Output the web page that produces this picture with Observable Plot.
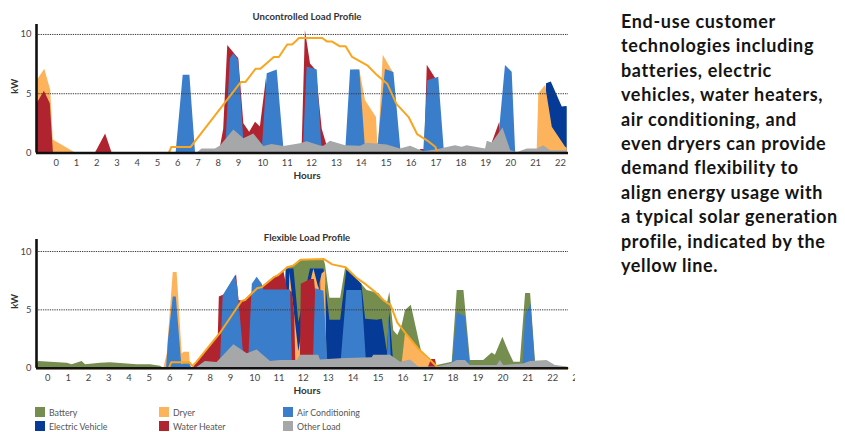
<!DOCTYPE html>
<html>
<head>
<meta charset="utf-8">
<script src="https://cdn.jsdelivr.net/npm/d3@7"></script>
<script src="https://cdn.jsdelivr.net/npm/@observablehq/plot@0.6"></script>
<style>
  html, body { margin: 0; padding: 0; background: #fff; }
  body { width: 845px; height: 432px; position: relative; overflow: hidden; font-family: Lato, "Open Sans", sans-serif; }
  #top { position: absolute; left: 0; top: 0; width: 580px; height: 185px; overflow: hidden; }
  #bottom { position: absolute; left: 0; top: 222px; width: 575px; height: 175px; overflow: hidden; }
  #legend { position: absolute; left: 0; top: 0; }
  .sw { position: absolute; width: 10px; height: 10px; }
  .lt { position: absolute; font-size: 8.8px; color: #555; line-height: 10px; white-space: nowrap; }
  #text { position: absolute; left: 621px; top: 9px; font-family: Lato, sans-serif; font-weight: 700; font-size: 18px; letter-spacing: 0.65px; line-height: 24.4px; color: #141414; white-space: nowrap; }
</style>
</head>
<body>
<div id="top"></div>
<div id="bottom"></div>
<div id="legend"></div>
<div id="text"></div>
<script>
// ---------- data (hour, kW) ----------
const topTicks = [0,1,2,3,4,5,6,7,8,9,10,11,12,13,14,15,16,17,18,19,20,21,22];
const bottomTicks = [0,1,2,3,4,5,6,7,8,9,10,11,12,13,14,15,16,17,18,19,20,21,22,23];

// Uncontrolled load profile
const uncSolar = [[-0.97,0],[5.56,0],[5.68,0.5],[6.63,0.5],[9.1,6.0],[9.29,6.0],[9.7,7.1],[9.9,7.1],[10.45,8.1],[10.66,8.1],[11.0,9.15],[11.2,9.15],[11.34,9.4],[11.48,9.7],[12.43,9.7],[12.63,9.4],[12.83,9.4],[13.14,9.0],[13.37,9.0],[13.63,8.1],[14.24,7.4],[14.64,6.55],[15.04,5.85],[15.41,4.15],[15.91,3.0],[16.24,1.6],[16.65,1.05],[16.98,0.5],[17.05,0],[22.27,0]];
const uncEV = [[21.3,0],[21.44,5.84],[21.63,5.98],[22.07,3.87],[22.24,3.92],[22.27,3.9]];
const uncDryer = [[-0.97,6.1],[-0.58,7.06],[-0.28,5.3],[-0.15,1.1],[0.95,0],[13.6,0],[13.7,7.0],[13.94,7.0],[14.17,4.4],[14.61,3.0],[14.66,0.8],[14.7,0.8],[14.88,8.25],[15.28,6.8],[15.37,0],[21.06,0],[21.13,5.0],[21.4,5.7],[21.67,2.18],[22.2,0.5],[22.27,0.4]];
const uncWater = [[-0.97,4.15],[-0.6,5.2],[-0.3,4.15],[-0.14,0],[1.94,0],[2.44,1.6],[2.76,0],[8.0,0],[8.11,0.5],[8.27,2.0],[8.47,9.07],[9.01,7.95],[9.22,2.46],[9.46,1.76],[9.7,2.6],[9.9,2.2],[10.15,6.3],[10.25,0],[11.55,0],[11.62,0.8],[11.75,10.34],[11.96,7.5],[12.19,6.96],[12.43,2.0],[12.6,0.8],[12.7,0],[16.2,0],[16.4,0.3],[16.55,0.3],[16.65,7.4],[16.98,6.3],[17.05,0],[19.1,0],[19.2,0.5],[19.56,2.6],[19.65,0]];
const uncAC = [[5.92,0],[6.27,6.55],[6.6,6.55],[6.88,0],[8.36,0],[8.6,7.95],[8.77,8.37],[9.01,7.8],[9.25,0],[9.97,0],[10.18,6.68],[10.59,7.0],[10.86,0.5],[10.9,0],[11.66,0],[11.82,7.25],[12.23,7.0],[12.43,0],[13.37,0],[13.57,7.0],[13.94,7.0],[14.17,0.3],[14.66,0.3],[14.97,7.05],[15.31,6.8],[15.6,0],[16.51,0.2],[16.67,6.1],[17.11,6.4],[17.34,0],[19.5,0],[19.6,3.0],[19.79,7.38],[20.06,6.82],[20.2,0]];
const uncOther = [[6.96,0],[7.2,0.34],[7.86,0.34],[8.11,0.6],[8.77,1.95],[9.22,1.2],[9.63,1.6],[10.04,0.55],[10.38,0.72],[10.86,0.55],[11.55,0.77],[11.82,0.95],[12.36,0.6],[12.5,0.57],[12.76,1.0],[13.37,0.62],[13.97,0.56],[14.24,0.82],[15.04,0.68],[15.57,0.34],[15.98,0.56],[16.51,0.11],[17.05,0.28],[17.78,0.62],[18.05,0.48],[18.25,0.62],[18.99,0.34],[19.06,1.0],[19.26,0.85],[19.69,2.1],[20.0,0.2],[20.27,0.05],[20.67,0.34],[21.07,0.34],[21.33,0.62],[21.6,0.2],[22.27,0.2]];

// Flexible load profile
const flexSolar = [[-0.5,0],[5.96,0],[6.08,0.5],[6.98,0.5],[7.12,0.2],[7.3,0.5],[8.51,3.1],[9.14,4.8],[9.45,5.75],[9.6,5.85],[10.1,6.85],[10.3,6.95],[10.79,7.8],[10.95,7.95],[11.34,8.65],[11.6,8.8],[11.89,9.3],[12.83,9.35],[13.16,8.9],[13.7,8.65],[14.16,7.7],[14.5,7.2],[14.9,6.5],[15.23,5.8],[15.5,5.4],[15.77,3.9],[16.1,3.0],[16.6,1.7],[17.0,0.9],[17.37,0.1],[17.45,0],[22.6,0]];
const flexBattery = [[-0.56,0.2],[-0.44,0.57],[0.13,0.51],[0.96,0.43],[1.2,0.29],[1.69,0.57],[1.86,0.29],[2.6,0.43],[3.09,0.46],[3.91,0.37],[4.4,0.29],[5.06,0.29],[5.55,0.17],[5.71,0],[11.2,0],[11.3,8.6],[11.6,8.8],[11.89,9.3],[12.83,9.3],[12.89,8.9],[13.07,6.0],[13.5,6.0],[13.7,8.6],[14.16,7.65],[14.56,6.65],[15.03,6.4],[15.37,5.5],[15.47,6.5],[15.63,3.2],[15.79,2.8],[15.97,3.7],[16.1,4.95],[16.33,5.4],[16.63,2.5],[16.77,1.2],[16.97,0.65],[17.37,0.23],[17.97,0.5],[18.17,6.65],[18.44,6.65],[18.7,0.65],[19.23,0.65],[19.57,1.3],[19.7,1.1],[20.0,2.65],[20.24,1.4],[20.44,0.5],[20.7,0.5],[20.91,6.4],[21.11,6.4],[21.31,0.5],[21.64,0.57],[22.04,0.23],[22.6,0]];
const flexEV = [[11.2,0],[11.3,8.5],[11.62,8.5],[11.82,3.9],[12.29,8.5],[12.83,8.5],[13.07,4.1],[13.5,4.1],[13.75,8.4],[14.35,7.2],[14.5,4.2],[14.97,4.1],[15.17,4.2],[15.37,1.4],[15.47,4.8],[15.63,0.3],[15.7,0]];
const flexDryer = [[5.72,0],[5.88,1.2],[6.18,8.2],[6.37,8.2],[6.62,1.2],[6.7,1.37],[6.98,1.37],[7.03,0],[11.35,0],[11.45,8.2],[11.82,1.4],[12.36,7.9],[12.43,8.5],[12.63,6.8],[12.76,8.1],[12.9,8.3],[12.95,0],[15.9,0],[15.97,0.5],[16.1,3.0],[16.7,1.5],[17.1,0.5],[17.37,0]];
const flexWater = [[7.15,0],[8.4,2.85],[8.45,6.1],[8.7,6.3],[9.25,8.0],[9.35,5.8],[9.45,5.75],[9.6,5.85],[10.1,6.85],[10.3,6.95],[10.79,7.8],[10.95,7.95],[11.2,8.35],[11.35,6.7],[11.55,6.5],[11.65,4.5],[11.7,0],[11.88,0],[11.92,7.2],[12.3,7.6],[12.45,7.6],[12.55,5.5],[12.7,7.6],[12.75,0],[17.0,0],[17.15,0.75],[17.3,0.75],[17.37,0]];
const flexAC = [[5.85,0],[5.95,2.5],[6.18,6.1],[6.33,6.1],[6.6,0.3],[6.7,0.37],[7.0,0.37],[7.1,0],[8.51,0.5],[8.64,6.2],[9.2,7.9],[9.3,7.0],[9.55,1.0],[9.62,0],[9.76,1.0],[9.9,7.2],[10.1,7.8],[10.31,7.2],[10.38,6.7],[11.48,6.7],[11.55,0.6],[11.6,0],[12.4,0],[12.5,6.8],[12.83,6.6],[13.0,0],[13.5,0],[13.75,6.65],[14.35,6.65],[14.55,0],[15.35,0],[15.45,4.65],[15.55,0],[17.97,0],[18.17,4.75],[18.5,4.4],[18.7,0],[20.8,0],[20.91,4.5],[21.13,5.5],[21.31,0]];
const flexOther = [[7.3,0],[7.76,0.57],[8.34,0.49],[9.14,2.0],[9.69,1.23],[10.1,1.57],[10.65,0.57],[11.06,0.65],[11.75,0.65],[11.89,1.1],[12.62,1.1],[12.69,0.7],[13.49,0.8],[14.76,0.9],[14.83,1.1],[15.5,1.1],[15.9,0.5],[16.3,0.7],[16.63,0.1],[17.37,0.1],[17.9,0.37],[18.17,0.65],[18.5,0.65],[18.7,0.23],[19.77,0.23],[19.9,0.65],[20.03,0.23],[20.83,0.37],[21.1,0.57],[21.77,0.65],[22.1,0.23],[22.6,0.1]];

const legendLabels = ["Battery","Dryer","Air Conditioning","Electric Vehicle","Water Heater","Other Load"];
const colors = {
  "Battery": "#758d4f", "Dryer": "#fdb35b", "Air Conditioning": "#3a7ecb",
  "Electric Vehicle": "#053a96", "Water Heater": "#b0242f", "Other Load": "#a6a7a9",
  "Solar": "#f8a520"
};
const paragraph = ["End-use customer","technologies including","batteries, electric","vehicles, water heaters,","air conditioning, and","even dryers can provide","demand flexibility to","align energy usage with","a typical solar generation","profile, indicated by the","yellow line."];

// ---------- drawing ----------
const pts = a => a.map(([h, v]) => ({h, v}));
const area = (a, key) => Plot.areaY(pts(a), {x: "h", y: "v", fill: colors[key], curve: "linear"});

function chart({title, layers, solar, ticks, width, height, xDomain, xRange, yDomain, yRange, marginRight, titleDy, hoursDy}) {
  return Plot.plot({
    width, height,
    marginLeft: 36, marginRight, marginTop: yRange[1], marginBottom: height - yRange[0],
    style: {fontFamily: "Lato, 'Open Sans', sans-serif", fontSize: "9px", background: "transparent"},
    x: {type: "linear", domain: xDomain, range: xRange, axis: null},
    y: {domain: yDomain, range: yRange, axis: null},
    marks: [
      ...layers.map(([a, key]) => area(a, key)),
      Plot.ruleY([5, 10], {stroke: "#3a3a3a", strokeWidth: 1, strokeDasharray: "1.3,1"}),
      Plot.line(pts(solar), {x: "h", y: "v", stroke: colors.Solar, strokeWidth: 2, curve: "linear"}),
      Plot.ruleY([0], {stroke: "#111", strokeWidth: 2.6}),
      Plot.ruleX([xDomain[0]], {y1: 0, y2: yDomain[1], stroke: "#111", strokeWidth: 2.6}),
      Plot.axisY({ticks: [0, 5, 10], tickSize: 0, tickPadding: 5, fill: "#444", label: null, fontSize: 9.4}),
      Plot.axisX({ticks, tickSize: 0, tickPadding: 6, fill: "#444", label: null, tickFormat: d => String(d), fontSize: 9.4}),
      Plot.text([title], {frameAnchor: "top", dx: 4.5, dy: titleDy, fontWeight: "bold", fontSize: 9.6, fill: "#333", lineAnchor: "middle"}),
      Plot.text(["Hours"], {frameAnchor: "bottom", dx: 4.5, dy: hoursDy, fontWeight: "bold", fontSize: 10, fill: "#333", lineAnchor: "middle"}),
      Plot.text(["kW"], {frameAnchor: "left", rotate: -90, dx: -22, dy: 5, fontWeight: "bold", fontSize: 9.6, fill: "#333", lineAnchor: "middle"})
    ]
  });
}

document.getElementById("top").append(chart({
  title: "Uncontrolled Load Profile",
  layers: [[uncEV, "Electric Vehicle"], [uncDryer, "Dryer"], [uncWater, "Water Heater"], [uncAC, "Air Conditioning"], [uncOther, "Other Load"]],
  solar: uncSolar, ticks: topTicks, width: 580, height: 185,
  xDomain: [-1, 0, 9, 12, 22, 23], xRange: [36, 55.7, 238, 311, 560, 584.9],
  yDomain: [0, 10.84], yRange: [152.5, 24], marginRight: 12,
  titleDy: -7.5, hoursDy: 22.5
}));

document.getElementById("bottom").append(chart({
  title: "Flexible Load Profile",
  layers: [[flexBattery, "Battery"], [flexEV, "Electric Vehicle"], [flexDryer, "Dryer"], [flexWater, "Water Heater"], [flexAC, "Air Conditioning"], [flexOther, "Other Load"]],
  solar: flexSolar, ticks: bottomTicks, width: 575, height: 175,
  xDomain: [-0.55, 0, 9, 12, 22, 23], xRange: [36, 47.3, 230, 302.7, 552.3, 577.3],
  yDomain: [0, 11.03], yRange: [145.7, 17], marginRight: 7,
  titleDy: -2, hoursDy: 22.5
}));

// legend
const legend = document.getElementById("legend");
const colX = [35, 159, 283], rowY = [407, 421];
legendLabels.forEach((name, i) => {
  const c = i % 3, r = Math.floor(i / 3);
  const sw = document.createElement("div");
  sw.className = "sw"; sw.style.left = colX[c] + "px"; sw.style.top = rowY[r] + "px"; sw.style.background = colors[name];
  const t = document.createElement("div");
  t.className = "lt"; t.textContent = name; t.style.left = (colX[c] + 14) + "px"; t.style.top = (rowY[r] + 1) + "px";
  legend.append(sw, t);
});

// paragraph
const tx = document.getElementById("text");
paragraph.forEach((line, i) => {
  if (i) tx.append(document.createElement("br"));
  tx.append(document.createTextNode(line));
});
</script>
</body>
</html>
